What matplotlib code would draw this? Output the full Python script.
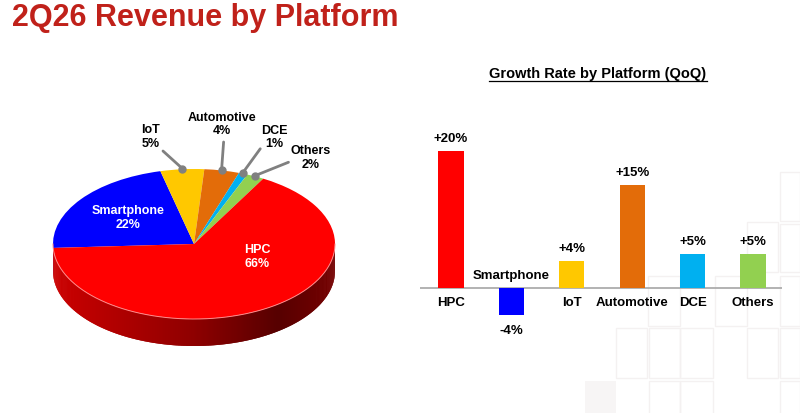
import numpy as np
import matplotlib.pyplot as plt
from matplotlib.patches import Rectangle
from matplotlib.collections import PolyCollection
from matplotlib.lines import Line2D
import matplotlib.colors as mcolors

plt.rcParams['font.family'] = ['Liberation Sans', 'DejaVu Sans']

# pie data (clockwise from the left edge)
pie_names = ['Smartphone', 'IoT', 'Automotive', 'DCE', 'Others', 'HPC']
pie_share = [22, 5, 4, 1, 2, 66]
pie_colors = ['#0000FF', '#FFC800', '#E36C09', '#00B0F0', '#92D050', '#FF0000']

# QoQ growth bars
bar_names = ['HPC', 'Smartphone', 'IoT', 'Automotive', 'DCE', 'Others']
growth = [20, -4, 4, 15, 5, 5]
bar_colors = ['#FF0000', '#0000FF', '#FFC800', '#E36C09', '#00B0F0', '#92D050']

W, H = 800, 414
fig = plt.figure(figsize=(8, 4.14), dpi=100)


def px_axes(x0, y0, x1, y1):
    # axes placed by pixel box (y measured from the top)
    return fig.add_axes([x0 / W, 1 - y1 / H, (x1 - x0) / W, (y1 - y0) / H])


# faint background tiles, bottom right
tiles = [(780, 173, 20, 49), (747, 223, 31, 50), (780, 225, 20, 48),
         (648, 277, 32, 50), (715, 277, 32, 50), (780, 277, 20, 50),
         (616, 329, 31, 50), (649, 329, 31, 50), (680, 329, 33, 50),
         (747, 329, 31, 50), (780, 329, 20, 50),
         (649, 382, 31, 40), (680, 382, 33, 40), (780, 382, 20, 40)]
for (x, y, w, h) in tiles:
    fig.add_artist(Rectangle((x / W, 1 - (y + h) / H), w / W, h / H,
                             transform=fig.transFigure, fill=False,
                             edgecolor='#F4F1F1', lw=1, zorder=0))
fig.add_artist(Rectangle((585 / W, 0), 31 / W, 32 / H, transform=fig.transFigure,
                         facecolor='#F7F5F5', edgecolor='none', zorder=0))

fig.text(12 / W, 1 - 18 / H, '2Q26 Revenue by Platform', color='#C0211A',
         fontsize=22, fontweight='bold', va='center', ha='left')

# ---------------- 3D-looking pie ----------------
cx, cy, rx, ry = 194, 245, 141, 75
depth = 27 / ry
ax = px_axes(0, 90, 410, 414)
wedges, _ = ax.pie(pie_share, colors=pie_colors, startangle=183, counterclock=False,
                   wedgeprops=dict(linewidth=0, zorder=3))
ax.set_aspect('auto')
ax.set_xlim((0 - cx) / rx, (410 - cx) / rx)
ax.set_ylim((cy - 414) / ry, (cy - 90) / ry)

# side wall: overlapping strips along the front half of each wedge
polys, cols = [], []
for w in wedges:
    base = np.array(mcolors.to_rgb(w.get_facecolor()))
    t = np.radians(np.arange(w.theta1, w.theta2 + 0.5, 0.5))
    for t0, t1 in zip(t[:-1], t[1:]):
        if np.sin((t0 + t1) / 2) > 0.02:
            continue
        t1 = t1 + np.radians(0.6)
        xm = np.cos((t0 + t1) / 2)
        shade = np.interp(xm, [-1, 0, 0.6, 1], [0.80, 0.56, 0.34, 0.46])
        polys.append([(np.cos(t0), np.sin(t0)), (np.cos(t1), np.sin(t1)),
                      (np.cos(t1), np.sin(t1) - depth), (np.cos(t0), np.sin(t0) - depth)])
        cols.append(base * shade)
ax.add_collection(PolyCollection(polys, facecolors=cols, edgecolors='none',
                                 linewidths=0, zorder=2))
tt = np.radians(np.linspace(180, 360, 200))
ax.plot(np.cos(tt), np.sin(tt), color='#FF8C8C', lw=0.7, zorder=4)

# inner labels
ax.text(-0.47, 0.36, 'Smartphone\n22%', color='white', fontsize=9, fontweight='bold',
        ha='center', va='center', linespacing=1.15, zorder=5)
ax.text(0.45, -0.16, 'HPC\n66%', color='white', fontsize=9, fontweight='bold',
        ha='center', va='center', linespacing=1.15, zorder=5)

# outer labels with leader lines
outer = {'IoT': ((-0.31, 1.44), (-0.22, 1.24)),
         'Automotive': ((0.20, 1.61), (0.21, 1.36)),
         'DCE': ((0.57, 1.43), (0.47, 1.27)),
         'Others': ((0.83, 1.16), (0.67, 1.09))}
for name, w, pct in zip(pie_names, wedges, pie_share):
    if name not in outer:
        continue
    (tx, ty), (lx, ly) = outer[name]
    mid = np.radians((w.theta1 + w.theta2) / 2)
    dx, dy = np.cos(mid) * 0.99, np.sin(mid) * 1.01
    ax.plot([lx, dx], [ly, dy], color='#808080', lw=2, solid_capstyle='round', zorder=6)
    ax.plot(dx, dy, 'o', color='#808080', ms=5, zorder=6)
    ax.text(tx, ty, f'{name}\n{pct}%', fontsize=9, fontweight='bold', ha='center',
            va='center', linespacing=1.15, zorder=6)

# ---------------- growth bars ----------------
bx = px_axes(420, 90, 782, 360)
pos = np.arange(len(bar_names))
bx.bar(pos, growth, width=0.42, color=bar_colors, zorder=2)
step, ppu = 60.4, 6.85
bx.set_xlim((420 - 451) / step, (782 - 451) / step)
bx.set_ylim((289 - 360) / ppu, (289 - 90) / ppu)
bx.axhline(0, color='#A6A6A6', lw=1.2, zorder=1)
bx.axis('off')
for i, (n, v) in enumerate(zip(bar_names, growth)):
    lab = f'{v:+d}%'
    if v >= 0:
        bx.annotate(lab, (i, v), xytext=(0, 5), textcoords='offset points',
                    ha='center', va='bottom', fontsize=9.5, fontweight='bold')
        bx.annotate(n, (i, 0), xytext=(0, -6), textcoords='offset points',
                    ha='center', va='top', fontsize=9.5, fontweight='bold')
    else:
        bx.annotate(lab, (i, v), xytext=(0, -6), textcoords='offset points',
                    ha='center', va='top', fontsize=9.5, fontweight='bold')
        bx.annotate(n, (i, 0), xytext=(0, 5), textcoords='offset points',
                    ha='center', va='bottom', fontsize=9.5, fontweight='bold')

ttl = fig.text(598 / W, 1 - 74 / H, 'Growth Rate by Platform (QoQ)', fontsize=10.5,
               fontweight='bold', ha='center', va='center')
fig.canvas.draw()
bb = ttl.get_window_extent()
fig.add_artist(Line2D([bb.x0 / W, bb.x1 / W], [(bb.y0 - 1) / H] * 2,
                      transform=fig.transFigure, color='black', lw=0.9))

fig.savefig('out.png', dpi=100)
